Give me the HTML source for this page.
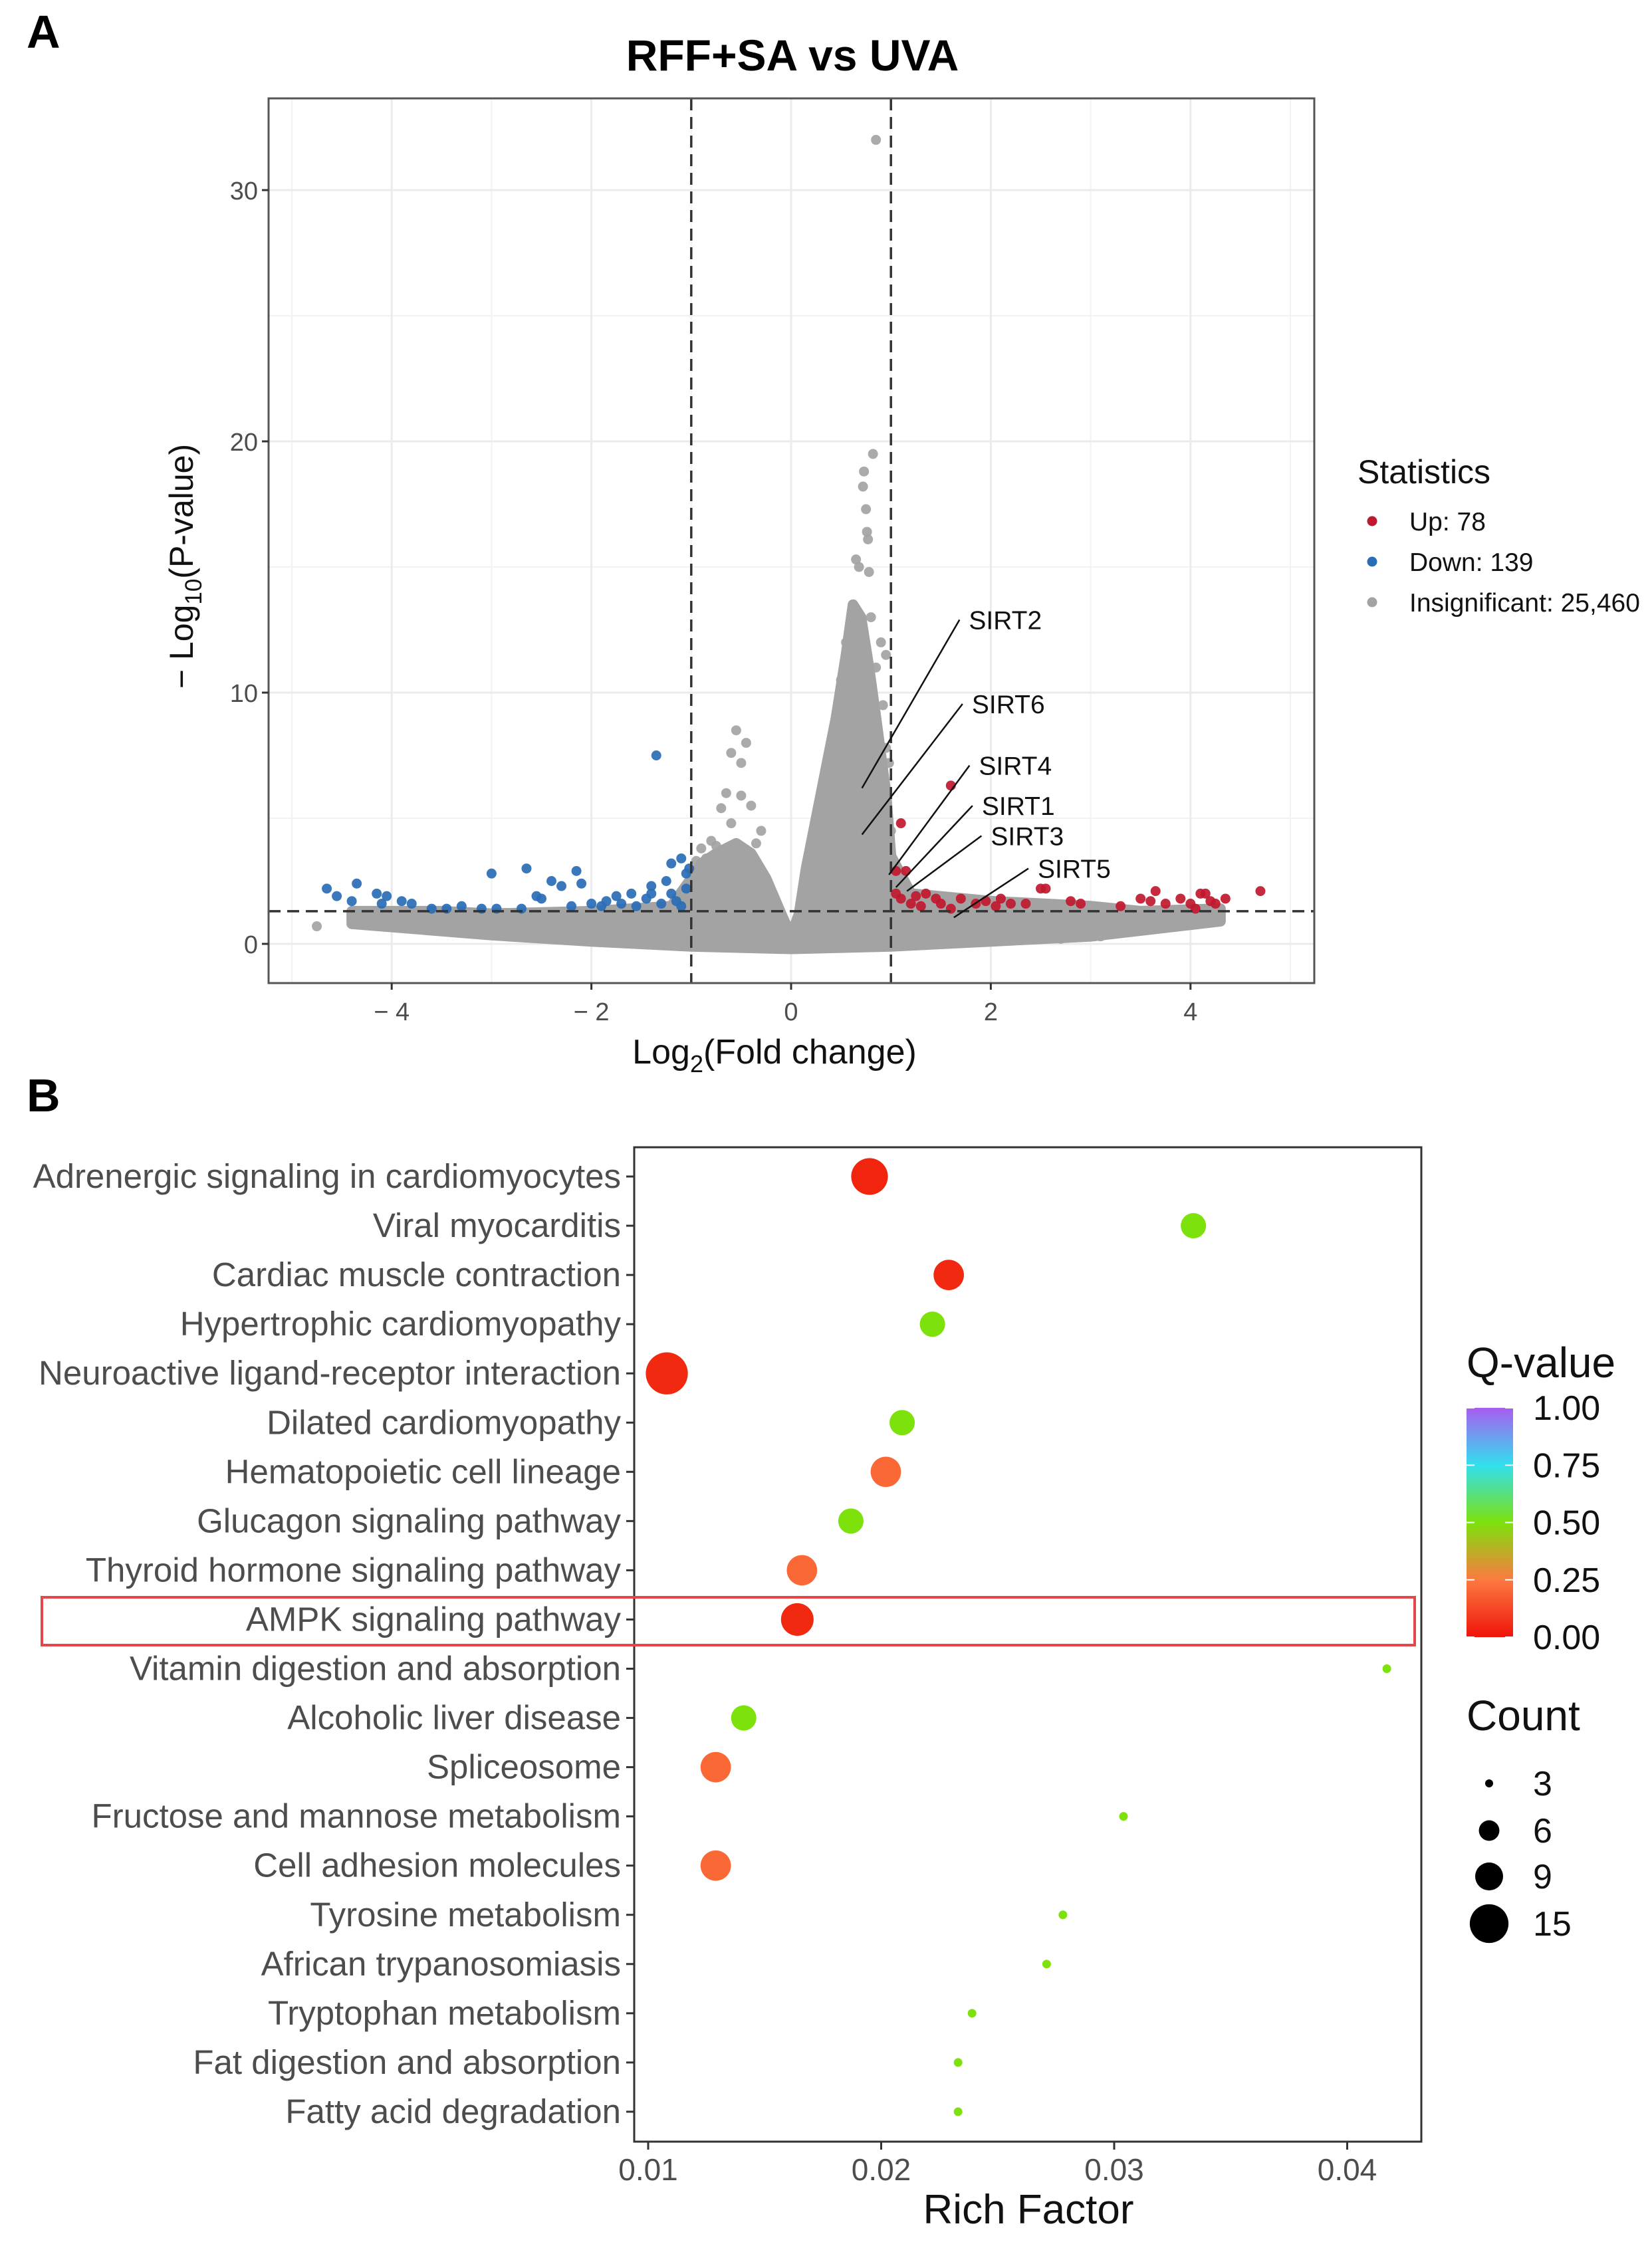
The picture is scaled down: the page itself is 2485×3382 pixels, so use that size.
<!DOCTYPE html>
<html><head><meta charset="utf-8"><style>
html,body{margin:0;padding:0;background:#fff;}
svg{display:block;font-family:"Liberation Sans",Arial,sans-serif;}
</style></head><body>
<svg id="fig" width="2485" height="3382" viewBox="0 0 2485 3382" xmlns="http://www.w3.org/2000/svg">
<rect width="2485" height="3382" fill="#fff"/>
<text x="40" y="72" font-size="70" font-weight="bold" fill="#000">A</text>
<text x="1192" y="106" font-size="66" font-weight="bold" text-anchor="middle" fill="#000">RFF+SA vs UVA</text>
<g id="volcano"></g>
<text x="40" y="1672" font-size="70" font-weight="bold" fill="#000">B</text>
<g id="bubble"></g>
</svg>
<script>
// ---------- Volcano data ----------
const xTicks = [-4, -2, 0, 2, 4];
const yTicks = [0, 10, 20, 30];
const downX = [-4.65,-4.35,-4.55,-4.4,-4.15,-4.05,-4.1,-3.9,-3.8,-3.6,-3.45,-3.0,-2.95,-2.65,-2.55,-2.4,-2.3,-2.15,-2.1,-2.0,-1.85,-1.75,-1.6,-1.55,-1.4,-1.35,-1.25,-1.2,-1.15,-1.1,-1.05,-1.05,-1.1,-1.3,-1.45,-1.7,-1.9,-2.2,-2.5,-2.7,-3.1,-3.3,-1.02,-1.2,-1.4];
const downY = [2.2,2.4,1.9,1.7,2.0,1.9,1.6,1.7,1.6,1.4,1.4,2.8,1.4,3.0,1.9,2.5,2.3,2.9,2.4,1.6,1.7,1.9,2.0,1.5,2.3,7.5,2.5,2.0,1.7,3.4,2.8,2.2,1.5,1.6,1.8,1.6,1.5,1.5,1.8,1.4,1.4,1.5,3.0,3.2,2.0];
const upX = [1.1,1.15,1.05,1.6,1.05,1.1,1.2,1.3,1.35,1.5,1.6,1.7,1.85,1.95,2.05,2.1,2.2,2.35,2.5,2.55,2.8,2.9,3.3,3.5,3.6,3.65,3.75,3.9,4.0,4.1,4.15,4.2,4.25,4.35,4.7,4.05,1.25,1.45];
const upY = [4.8,2.9,2.9,6.3,2.0,1.8,1.6,1.5,2.0,1.6,1.4,1.8,1.6,1.7,1.5,1.8,1.6,1.6,2.2,2.2,1.7,1.6,1.5,1.8,1.7,2.1,1.6,1.8,1.6,2.0,2.0,1.7,1.6,1.8,2.1,1.4,1.9,1.8];
const nsX = [0.85,0.82,0.73,0.72,0.75,0.76,0.77,0.65,0.68,0.78,0.6,0.8,0.55,0.9,0.85,0.95,0.95,0.98,-0.55,-0.45,-0.6,-0.5,-0.65,-0.5,-0.7,-0.4,-0.9,-0.8,-4.75,0.45,0.5,0.62,0.7,0.85,0.9,0.9,1.0,-0.3,-0.95,3.0,3.3,2.6,3.6,0.4,0.35,0.3,0.48,0.92,0.88,0.96,0.93,-0.35,-0.6,-0.75,-0.85,2.2,2.7,3.1,3.4,-3.8,-3.2,-2.5];
const nsY = [32,19.5,18.8,18.2,17.3,16.4,16.1,15.3,15,14.8,13,13,12,12,11,11.5,7.8,7.2,8.5,8.0,7.6,7.2,6.0,5.9,5.4,5.5,3.8,4.1,0.7,9,10.5,11,10,9,7,5,4.5,4.5,3.3,0.6,0.7,0.8,0.6,7.5,5.5,4.0,8.0,9.5,8.0,5.8,3.5,4.0,4.8,3.9,3.4,0.3,0.2,0.3,0.5,0.9,0.7,0.6];
// gray cloud envelope
const cloudX = [-4.4,-3.5,-3,-2,-1.2,-1,-0.9,-0.75,-0.55,-0.4,-0.25,-0.1,0,0.08,0.15,0.25,0.35,0.45,0.55,0.62,0.7,0.78,0.85,0.95,1.0,1.2,2,3,3.5,4.3,4.3,3,2,1,0,-1,-2,-3,-4.4];
const cloudY = [1.3,1.3,1.2,1.3,1.5,2.6,3.2,3.6,4.0,3.6,2.6,1.2,0.3,1.2,3.0,5.0,7.0,9.0,11.5,13.5,13,11,9,6,3.5,2.0,1.7,1.5,1.3,1.4,0.9,0.3,0.1,-0.1,-0.2,-0.1,0.1,0.35,0.8];
const sirtNames = ["SIRT2","SIRT6","SIRT4","SIRT1","SIRT3","SIRT5"];
const sirtLabelX = [1.78,1.81,1.88,1.91,2.0,2.47];
const sirtLabelY = [12.9,9.55,7.1,5.5,4.3,3.0];
const sirtPointX = [0.71,0.71,0.98,1.05,1.16,1.63];
const sirtPointY = [6.2,4.35,2.75,2.25,2.1,1.05];

const NS='http://www.w3.org/2000/svg';
function mk(parent, tag, attrs, text){const e=document.createElementNS(NS,tag);for(const k in attrs)e.setAttribute(k,attrs[k]);if(text!==undefined)e.textContent=text;parent.appendChild(e);return e;}

const VL=404,VR=1977,VT=148,VB=1479;
const vx = v => 1190 + v*150.2;
const vy = v => 1420 - v*37.8;
const V=document.getElementById('volcano');
for(let m=-5;m<=5;m+=1){ if(m%2!==0){const x=vx(m); if(x>VL&&x<VR){const l=mk(V,'line',{x1:x,x2:x,y1:VT,y2:VB,stroke:'#f2f2f2','stroke-width':2});  }}}
for(let m=5;m<=35;m+=10){const y=vy(m); if(y>VT&&y<VB){const l=mk(V,'line',{x1:VL,x2:VR,y1:y,y2:y,stroke:'#f2f2f2','stroke-width':2});  }}
xTicks.forEach(t=>{const l=mk(V,'line',{x1:vx(t),x2:vx(t),y1:VT,y2:VB,stroke:'#ebebeb','stroke-width':3});});
yTicks.forEach(t=>{const l=mk(V,'line',{x1:VL,x2:VR,y1:vy(t),y2:vy(t),stroke:'#ebebeb','stroke-width':3});});
let pts=cloudX.map((x,i)=>vx(x)+','+vy(cloudY[i])).join(' ');
const cl=mk(V,'polygon',{points:pts,fill:'#a3a3a3',stroke:'#a3a3a3','stroke-width':16,'stroke-linejoin':'round'});


function dots(xs,ys,col,name){xs.forEach((x,i)=>{const c=mk(V,'circle',{cx:vx(x),cy:vy(ys[i]),r:7.5,fill:col,'fill-opacity':0.92});});}
dots(nsX,nsY,'#a3a3a3','insignificant-point');
dots(downX,downY,'#2a6db5','down-point');
dots(upX,upY,'#c0182e','up-point');
[[vx(-1),VT,vx(-1),VB],[vx(1),VT,vx(1),VB],[VL,vy(1.301),VR,vy(1.301)]].forEach(a=>{const l=mk(V,'line',{x1:a[0],y1:a[1],x2:a[2],y2:a[3],stroke:'#333','stroke-width':3.5,'stroke-dasharray':'18,10'});});
sirtNames.forEach((n,i)=>{
 const l=mk(V,'line',{x1:vx(sirtLabelX[i])-14,y1:vy(sirtLabelY[i]),x2:vx(sirtPointX[i]),y2:vy(sirtPointY[i]),stroke:'#111','stroke-width':2.5});
 
 
 const t=mk(V,'text',{x:vx(sirtLabelX[i]),y:vy(sirtLabelY[i])+14,'font-size':39,fill:'#111'},n);
 
 
});
const bd=mk(V,'rect',{x:VL,y:VT,width:VR-VL,height:VB-VT,fill:'none',stroke:'#555','stroke-width':3});

xTicks.forEach(t=>{mk(V,'line',{x1:vx(t),x2:vx(t),y1:VB,y2:VB+10,stroke:'#333','stroke-width':3});
 const tx=mk(V,'text',{x:vx(t),y:VB+56,'font-size':38,fill:'#4d4d4d','text-anchor':'middle'},t<0?'\u2212 '+(-t):String(t));
 });
yTicks.forEach(t=>{mk(V,'line',{x1:VL-10,x2:VL,y1:vy(t),y2:vy(t),stroke:'#333','stroke-width':3});
 const tx=mk(V,'text',{x:VL-16,y:vy(t)+14,'font-size':38,fill:'#4d4d4d','text-anchor':'end'},String(t));
 });
const xt=mk(V,'text',{x:1165,y:1600,'font-size':52,fill:'#111','text-anchor':'middle'});

xt.innerHTML='Log<tspan font-size="36" dy="13">2</tspan><tspan dy="-13">(Fold change)</tspan>';
const yt=mk(V,'text',{transform:'translate(290,852) rotate(-90)','font-size':50,fill:'#111','text-anchor':'middle'});

yt.innerHTML='\u2212 Log<tspan font-size="35" dy="13">10</tspan><tspan dy="-13">(P-value)</tspan>';
const lg=mk(V,'text',{x:2042,y:727,'font-size':50,fill:'#111'},'Statistics');

[['#c0182e','Up: 78',784],['#2a6db5','Down: 139',845],['#a3a3a3','Insignificant: 25,460',906]].forEach(e=>{
 const c=mk(V,'circle',{cx:2064,cy:e[2],r:7.5,fill:e[0]});
 const t=mk(V,'text',{x:2120,y:e[2]+14,'font-size':39,fill:'#111'},e[1]);
});

// ---------- Bubble data ----------
const pathways = ["Adrenergic signaling in cardiomyocytes","Viral myocarditis","Cardiac muscle contraction","Hypertrophic cardiomyopathy","Neuroactive ligand-receptor interaction","Dilated cardiomyopathy","Hematopoietic cell lineage","Glucagon signaling pathway","Thyroid hormone signaling pathway","AMPK signaling pathway","Vitamin digestion and absorption","Alcoholic liver disease","Spliceosome","Fructose and mannose metabolism","Cell adhesion molecules","Tyrosine metabolism","African trypanosomiasis","Tryptophan metabolism","Fat digestion and absorption","Fatty acid degradation"];
const richFactor = [0.0195,0.0334,0.0229,0.0222,0.0108,0.0209,0.0202,0.0187,0.0166,0.0164,0.0417,0.0141,0.0129,0.0304,0.0129,0.0278,0.0271,0.0239,0.0233,0.0233];
const counts = [12,7,9,7,15,7,9,7,9,10,3,7,9,3,9,3,3,3,3,3];
const qValues = [0.02,0.5,0.03,0.5,0.03,0.5,0.2,0.5,0.2,0.03,0.5,0.5,0.2,0.5,0.2,0.5,0.5,0.5,0.5,0.5];
const rfTicks = [0.01,0.02,0.03,0.04];
const qTicks = [1.00,0.75,0.50,0.25,0.00];
const countLegend = [3,6,9,15];

const BL=954,BR=2138,BT=1726,BB=3222;
const bx = v => 975 + (v-0.01)*35050;
const by = i => 1770 + i*74.05;
const br = c => Math.sqrt(42 + 80*(c-3));
function qcol(q){const stops=[[0,[240,30,10]],[0.25,[251,122,64]],[0.5,[125,225,12]],[0.75,[49,224,238]],[1,[169,92,240]]];
 for(let i=1;i<stops.length;i++){if(q<=stops[i][0]){const a=stops[i-1],b=stops[i],t=(q-a[0])/(b[0]-a[0]);return 'rgb('+a[1].map((v,k)=>Math.round(v+(b[1][k]-v)*t)).join(',')+')';}}return 'rgb(169,92,240)';}
const B=document.getElementById('bubble');
const bb=mk(B,'rect',{x:BL,y:BT,width:BR-BL,height:BB-BT,fill:'#fff',stroke:'#333','stroke-width':3});

pathways.forEach((p,i)=>{
 mk(B,'line',{x1:BL-12,x2:BL,y1:by(i),y2:by(i),stroke:'#333','stroke-width':3});
 const t=mk(B,'text',{x:BL-20,y:by(i)+17,'font-size':51,fill:'#4d4d4d','text-anchor':'end'},p);
 
 const c=mk(B,'circle',{cx:bx(richFactor[i]),cy:by(i),r:br(counts[i]),fill:qcol(qValues[i])});
 
});
rfTicks.forEach(t=>{mk(B,'line',{x1:bx(t),x2:bx(t),y1:BB,y2:BB+12,stroke:'#333','stroke-width':3});
 const tx=mk(B,'text',{x:bx(t),y:BB+58,'font-size':46,fill:'#4d4d4d','text-anchor':'middle'},t.toFixed(2));
 });
const rt=mk(B,'text',{x:1547,y:3345,'font-size':62,fill:'#111','text-anchor':'middle'},'Rich Factor');

const hb=mk(B,'rect',{x:63,y:2403,width:2065,height:72,fill:'none',stroke:'#e8454a','stroke-width':4});

const defs=mk(B,'defs',{});const gr=mk(defs,'linearGradient',{id:'qg',x1:0,y1:1,x2:0,y2:0});
[[0,240,20,10],[0.25,251,122,64],[0.5,125,225,12],[0.75,49,224,238],[1,169,92,240]].forEach(s=>mk(gr,'stop',{offset:s[0],'stop-color':'rgb('+s[1]+','+s[2]+','+s[3]+')'}));
const qt=mk(B,'text',{x:2206,y:2072,'font-size':64,fill:'#111'},'Q-value');
const cb=mk(B,'rect',{x:2206,y:2118,width:70,height:345,fill:'url(#qg)'});
qTicks.forEach(q=>{const y=2118+(1-q)*345;
 mk(B,'line',{x1:2206,x2:2218,y1:y,y2:y,stroke:'#fff','stroke-width':2});mk(B,'line',{x1:2264,x2:2276,y1:y,y2:y,stroke:'#fff','stroke-width':2});
 const t=mk(B,'text',{x:2306,y:y+18,'font-size':52,fill:'#111'},q.toFixed(2));});
const ct=mk(B,'text',{x:2206,y:2603,'font-size':64,fill:'#111'},'Count');
const countY=[2683,2754,2823,2894];
countLegend.forEach((c,i)=>{const y=countY[i];
 const d=mk(B,'circle',{cx:2240,cy:y,r:c===3?6:br(c)*0.92,fill:'#000'});
 const t=mk(B,'text',{x:2306,y:y+18,'font-size':52,fill:'#111'},String(c));});
</script>
</body></html>
